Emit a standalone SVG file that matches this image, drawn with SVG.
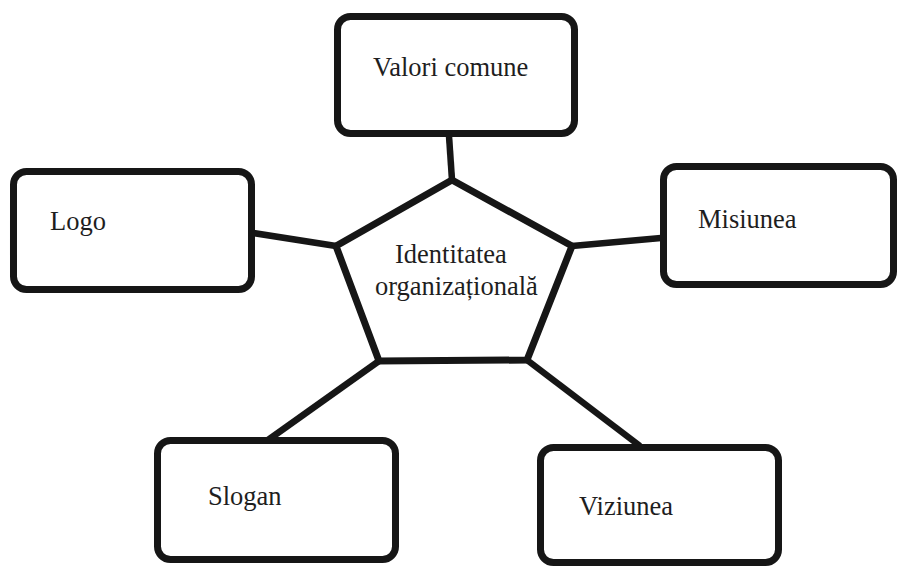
<svg xmlns="http://www.w3.org/2000/svg" width="898" height="566" viewBox="0 0 898 566">
  <style>
    .box { fill: #ffffff; stroke: #161616; stroke-width: 7; }
    .hub { fill: #ffffff; stroke: #161616; stroke-width: 7; stroke-linejoin: miter; }
    .link { stroke: #161616; stroke-width: 6.5; stroke-linecap: butt; fill: none; }
    .label { font-family: "Liberation Serif", "Times New Roman", serif; font-size: 26.5px; fill: #1e1e1e; }
  </style>
  <rect width="898" height="566" fill="#ffffff"/>

  <!-- spokes from the central pentagon to each box -->
  <g id="connectors">
    <line class="link" x1="449" y1="136" x2="452" y2="180"/>
    <line class="link" x1="247" y1="232" x2="336" y2="246"/>
    <line class="link" x1="572" y1="246" x2="661" y2="238"/>
    <line class="link" x1="379" y1="361" x2="268" y2="440"/>
    <line class="link" x1="527" y1="360" x2="640" y2="446"/>
  </g>

  <g id="identitatea">
    <polygon class="hub" points="452,180 572,246 527,360 379,361 336,246"/>
    <text class="label" x="395" y="263">Identitatea</text>
    <text class="label" x="375" y="295">organizațională</text>
  </g>

  <g id="valori-comune">
    <rect class="box" x="337.5" y="16.5" width="237" height="117" rx="13"/>
    <text class="label" x="373" y="76">Valori comune</text>
  </g>

  <g id="logo">
    <rect class="box" x="13.5" y="171.5" width="238" height="118" rx="13"/>
    <text class="label" x="50" y="230">Logo</text>
  </g>

  <g id="misiunea">
    <rect class="box" x="663.5" y="166.5" width="230" height="118" rx="13"/>
    <text class="label" x="698" y="228">Misiunea</text>
  </g>

  <g id="slogan">
    <rect class="box" x="157.5" y="440.5" width="238" height="119" rx="13"/>
    <text class="label" x="208" y="505">Slogan</text>
  </g>

  <g id="viziunea">
    <rect class="box" x="540.5" y="447.5" width="238" height="115" rx="13"/>
    <text class="label" x="579" y="515">Viziunea</text>
  </g>
</svg>
